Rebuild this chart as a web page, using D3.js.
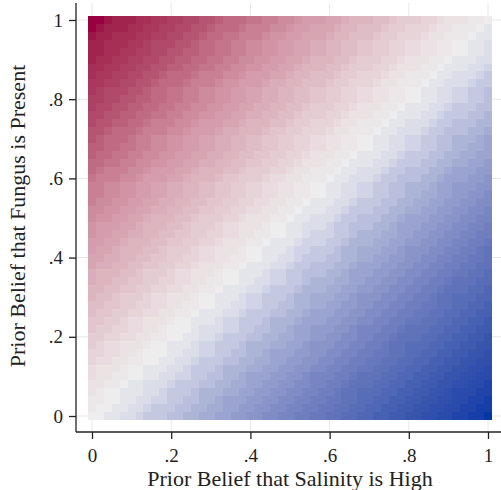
<!DOCTYPE html>
<html>
<head>
<meta charset="utf-8">
<script src="https://cdn.jsdelivr.net/npm/d3@7"></script>
<style>
  body { margin: 0; background: #fff; }
  text { font-family: "Liberation Serif", "DejaVu Serif", serif; fill: #222; }
</style>
</head>
<body>
<svg id="chart" width="501" height="490"></svg>
<script>
"use strict";

// grid of prior beliefs (both axes), step .02
const salinity_prior = [0, .02, .04, .06, .08, .1, .12, .14, .16, .18, .2, .22, .24, .26, .28, .3, .32, .34, .36, .38, .4,
  .42, .44, .46, .48, .5, .52, .54, .56, .58, .6, .62, .64, .66, .68, .7, .72, .74, .76, .78, .8,
  .82, .84, .86, .88, .9, .92, .94, .96, .98, 1];
const fungus_prior = salinity_prior.slice();

// shade read along the diagonal offset (fungus - salinity)
const shade_stops = [-1, -0.75, -0.5, -0.25, -0.1, 0, 0.1, 0.25, 0.5, 0.75, 1];
const shade_colors = ["#0038a8", "#3f5db0", "#7281c0", "#aab2d6", "#d6d9e8", "#ededed",
  "#eadfe2", "#e1c3cb", "#cf90a2", "#b24c6c", "#980040"];

const tick_vals = [0, .2, .4, .6, .8, 1];
const tick_labels = ["0", ".2", ".4", ".6", ".8", "1"];

const svg = d3.select("#chart");
const step = 0.02;

const x_scale = d3.scaleLinear().domain([0, 1]).range([92, 488]);
const y_scale = d3.scaleLinear().domain([0, 1]).range([416, 20]);
const color = d3.scaleLinear().domain(shade_stops).range(shade_colors).interpolate(d3.interpolateLab).clamp(true);

const plot_left = 76, plot_right = 501, plot_top = 3, plot_bottom = 432;

// gridlines
svg.append("g").selectAll("line.gx").data(tick_vals).enter().append("line")
  .attr("x1", d => x_scale(d)).attr("x2", d => x_scale(d))
  .attr("y1", plot_top).attr("y2", plot_bottom)
  .attr("stroke", "#e8e8e8").attr("stroke-width", 1);
svg.append("g").selectAll("line.gy").data(tick_vals).enter().append("line")
  .attr("y1", d => y_scale(d)).attr("y2", d => y_scale(d))
  .attr("x1", plot_left).attr("x2", plot_right)
  .attr("stroke", "#e8e8e8").attr("stroke-width", 1);

// cells (levels binned to .04 like the reference's stepped shading)
let cells = [];
for (let fy of fungus_prior) {
  for (let sx of salinity_prior) {
    cells.push({ x: sx, y: fy, v: Math.round((fy - sx) / 0.04) * 0.04 });
  }
}
const px0 = d => Math.round(x_scale(d.x - step / 2));
const py0 = d => Math.round(y_scale(d.y + step / 2));
svg.append("g").attr("shape-rendering", "crispEdges").selectAll("rect").data(cells).enter().append("rect")
  .attr("x", px0)
  .attr("y", py0)
  .attr("width", d => Math.round(x_scale(d.x + step / 2)) - px0(d))
  .attr("height", d => Math.round(y_scale(d.y - step / 2)) - py0(d))
  .attr("fill", d => color(d.v));

// axes
const ax_x = svg.append("g").attr("transform", "translate(0," + plot_bottom + ")")
  .call(d3.axisBottom(x_scale).tickValues(tick_vals).tickFormat((d, i) => tick_labels[i]).tickSize(7).tickPadding(10));
ax_x.select(".domain").attr("d", "M" + plot_left + ",0H" + plot_right).attr("stroke", "#222").attr("stroke-width", 1.3);
ax_x.selectAll("line").attr("stroke", "#222").attr("stroke-width", 1.3);
ax_x.selectAll("text").attr("font-size", 19).attr("font-family", "Liberation Serif").attr("fill", "#222");

const ax_y = svg.append("g").attr("transform", "translate(" + plot_left + ",0)")
  .call(d3.axisLeft(y_scale).tickValues(tick_vals).tickFormat((d, i) => tick_labels[i]).tickSize(7).tickPadding(6));
ax_y.select(".domain").attr("d", "M0," + plot_top + "V" + plot_bottom).attr("stroke", "#222").attr("stroke-width", 1.3);
ax_y.selectAll("line").attr("stroke", "#222").attr("stroke-width", 1.3);
ax_y.selectAll("text").attr("font-size", 19).attr("font-family", "Liberation Serif").attr("fill", "#222");

// axis titles
svg.append("text")
  .attr("x", 290).attr("y", 486)
  .attr("text-anchor", "middle")
  .attr("font-size", 22)
  .text("Prior Belief that Salinity is High");

svg.append("text")
  .attr("transform", "translate(25,216) rotate(-90)")
  .attr("text-anchor", "middle")
  .attr("font-size", 22)
  .text("Prior Belief that Fungus is Present");
</script>
</body>
</html>
